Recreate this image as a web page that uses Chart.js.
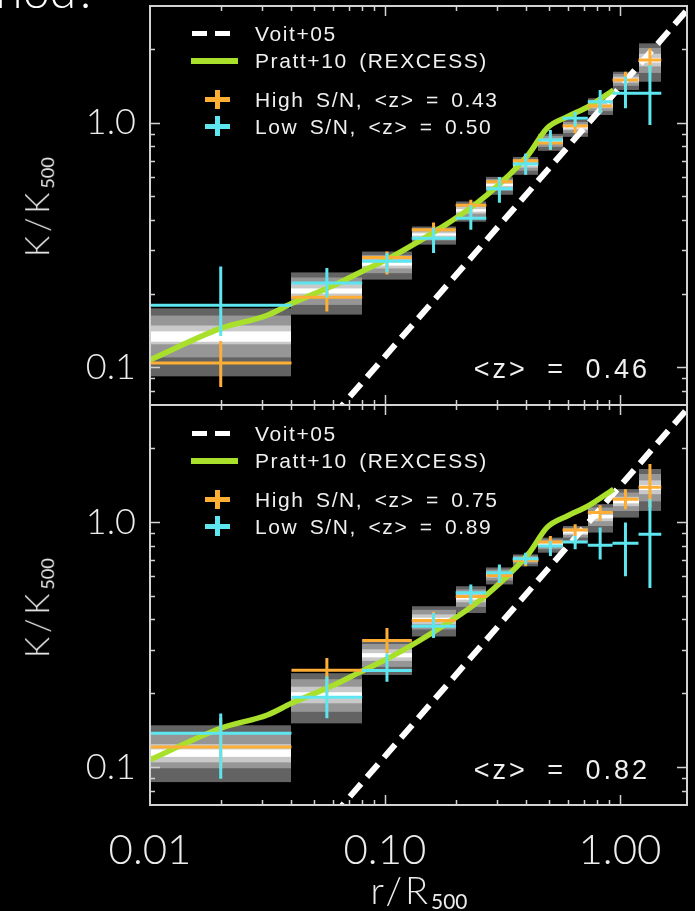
<!DOCTYPE html>
<html lang="en">
<head>
<meta charset="UTF-8">
<title>Entropy profiles K/K500</title>
<script src="https://cdn.jsdelivr.net/npm/chart.js"></script>
<style>
    html, body { margin: 0; padding: 0; background: #000; }
    #page { position: relative; width: 695px; height: 911px; overflow: hidden; background: #000; }
    #page canvas { position: absolute; left: 0; top: 0; }
    .t { position: absolute; color: #f0f0f0; white-space: pre; line-height: 1; }
    .leg { font-family: "Liberation Sans", Arial, sans-serif; font-size: 21px; letter-spacing: 1.6px; word-spacing: 4px; transform: translateY(-50%); }
    .zlab { font-family: "Liberation Sans", Arial, sans-serif; font-size: 27px; letter-spacing: 3px; word-spacing: 9px; transform: translateY(-50%); }
    .sw { position: absolute; }
    .axt { font-family: Lato, "Open Sans", sans-serif; font-weight: 300; color: #ececec; }
    .axt sub { font-size: 0.55em; vertical-align: -0.25em; font-weight: 400; letter-spacing: 0; }
</style>
</head>
<body>
<div id="page">
    <canvas id="panelTop" width="695" height="911"></canvas>
    <canvas id="panelBottom" width="695" height="911"></canvas>
</div>
<script>
    // radial bins (r/R500)
    const binLo  = [0.01, 0.04, 0.08, 0.13, 0.20, 0.27, 0.35, 0.45, 0.57, 0.73, 0.93, 1.20];
    const binHi  = [0.04, 0.08, 0.13, 0.20, 0.27, 0.35, 0.45, 0.57, 0.73, 0.93, 1.20, 1.50];
    const binMid = [0.02, 0.0566, 0.102, 0.161, 0.232, 0.307, 0.397, 0.506, 0.645, 0.824, 1.056, 1.342];

    // Voit+05 baseline and Pratt+10 (REXCESS) median profile
    const voitR = [0.06, 2.0];
    const voitK = [0.063, 3.0];
    const prattR = [0.01, 0.02, 0.0316, 0.04, 0.06, 0.079, 0.105, 0.168, 0.24, 0.31, 0.41, 0.49, 0.60, 0.73, 0.94];
    const prattK = [0.107, 0.144, 0.163, 0.182, 0.215, 0.245, 0.28, 0.365, 0.46, 0.565, 0.745, 0.95, 1.06, 1.16, 1.36];

    // low-z panel
    const highK_a  = [0.104, 0.193, 0.2805, 0.365, 0.459, 0.573, 0.698, 0.826, 0.969, 1.17, 1.494, 1.803];
    const highLo_a = [0.083, 0.169, 0.239, 0.341, 0.428, 0.541, 0.653, 0.774, 0.905, 1.10, 1.382, 1.615];
    const highHi_a = [0.128, 0.211, 0.297, 0.390, 0.4835, 0.60, 0.738, 0.882, 1.016, 1.25, 1.615, 2.012];
    const lowK_a   = [0.179, 0.221, 0.271, 0.337, 0.406, 0.536, 0.678, 0.850, 1.042, 1.218, 1.318, 1.318];
    const lowLo_a  = [0.134, 0.192, 0.244, 0.293, 0.365, 0.470, 0.612, 0.774, 0.963, 1.092, 1.145, 0.979];
    const lowHi_a  = [0.258, 0.2545, 0.293, 0.372, 0.459, 0.60, 0.748, 0.934, 1.109, 1.36, 1.541, 1.72];

    // high-z panel
    const highK_b  = [0.1208, 0.248, 0.328, 0.3966, 0.496, 0.605, 0.697, 0.828, 0.927, 1.093, 1.239, 1.384];
    const highLo_b = [0.0985, 0.200, 0.2915, 0.381, 0.451, 0.556, 0.659, 0.773, 0.876, 1.009, 1.127, 1.146];
    const highHi_b = [0.158, 0.2787, 0.369, 0.4305, 0.525, 0.66, 0.737, 0.876, 0.979, 1.171, 1.361, 1.724];
    const lowK_b   = [0.1375, 0.1925, 0.2474, 0.375, 0.5136, 0.620, 0.708, 0.797, 0.828, 0.803, 0.818, 0.890];
    const lowLo_b  = [0.0896, 0.158, 0.223, 0.336, 0.46, 0.564, 0.671, 0.726, 0.773, 0.703, 0.601, 0.538];
    const lowHi_b  = [0.1655, 0.234, 0.2915, 0.425, 0.5555, 0.671, 0.749, 0.836, 0.876, 0.948, 0.994, 1.239];

    // simulated scatter per bin: [outerLo, midLo, innerLo, coreLo, coreHi, innerHi, midHi, outerHi]
    const bands_a = [
        [0.0917, 0.1096, 0.124, 0.127, 0.140, 0.148, 0.1625, 0.174],
        [0.164, 0.1797, 0.1922, 0.2000, 0.2098, 0.2192, 0.2326, 0.244],
        [0.228, 0.2422, 0.2533, 0.2602, 0.2686, 0.2765, 0.2877, 0.297],
        [0.317, 0.3297, 0.3394, 0.3452, 0.3524, 0.3591, 0.3684, 0.376],
        [0.3935, 0.4111, 0.4246, 0.4326, 0.4427, 0.4520, 0.4653, 0.476],
        [0.507, 0.5268, 0.5422, 0.5514, 0.5627, 0.5733, 0.588, 0.600],
        [0.612, 0.6361, 0.6546, 0.6656, 0.6792, 0.6918, 0.7097, 0.724],
        [0.767, 0.7961, 0.8176, 0.8307, 0.8467, 0.8619, 0.8829, 0.900],
        [0.875, 0.9075, 0.9322, 0.9469, 0.9652, 0.9822, 1.0057, 1.025],
        [1.075, 1.1146, 1.1448, 1.163, 1.185, 1.2058, 1.2344, 1.258],
        [1.36, 1.4149, 1.4568, 1.4822, 1.5129, 1.5417, 1.582, 1.615],
        [1.47, 1.597, 1.6988, 1.7613, 1.8393, 1.914, 2.021, 2.11]
    ];
    const bands_b = [
        [0.0868, 0.0989, 0.1045, 0.110, 0.118, 0.124, 0.139, 0.148],
        [0.1507, 0.168, 0.182, 0.1907, 0.2019, 0.2127, 0.2282, 0.2415],
        [0.2375, 0.2563, 0.2711, 0.2802, 0.2915, 0.3022, 0.3178, 0.3306],
        [0.341, 0.3641, 0.3821, 0.393, 0.4066, 0.4195, 0.4378, 0.453],
        [0.425, 0.4503, 0.47, 0.482, 0.4968, 0.5107, 0.5304, 0.5466],
        [0.556, 0.5768, 0.5925, 0.602, 0.6136, 0.6245, 0.6396, 0.652],
        [0.659, 0.6762, 0.6891, 0.6969, 0.7063, 0.7152, 0.7273, 0.737],
        [0.749, 0.7738, 0.7927, 0.8039, 0.8177, 0.8306, 0.8486, 0.863],
        [0.836, 0.8636, 0.8847, 0.8972, 0.9126, 0.9268, 0.9467, 0.963],
        [0.905, 0.9623, 1.0069, 1.0342, 1.0678, 1.0997, 1.1446, 1.182],
        [1.042, 1.1081, 1.1597, 1.1911, 1.2298, 1.2666, 1.3183, 1.361],
        [1.109, 1.2138, 1.2983, 1.3503, 1.4155, 1.4778, 1.5686, 1.644]
    ];

    const zMean = ['0.46', '0.82'];
    const zHigh = ['0.43', '0.75'];
    const zLow  = ['0.50', '0.89'];
    const xTickVals = [0.01, 0.1, 1];
    const xTickText = ['0.01', '0.10', '1.00'];
    const yTickVals = [0.1, 1];
    const yTickText = ['0.1', '1.0'];

    const ORANGE = '#ffae35';
    const CYAN = '#5de6f0';
    const GREEN = '#a8e02c';
    const bandColors = ['#636363', '#969696', '#c9c9c9', '#ffffff'];

    const toXY = (xs, ys) => xs.map((v, i) => ({ x: v, y: ys[i] }));

    // crosses: bin-wide horizontal bar plus vertical error bar, split by gaps
    function crosses(k, lo, hi) {
        const pts = [];
        k.forEach((v, i) => {
            pts.push({ x: binLo[i], y: v }, { x: binHi[i], y: v }, { x: binMid[i], y: null });
            pts.push({ x: binMid[i], y: lo[i] }, { x: binMid[i], y: hi[i] }, { x: binMid[i], y: null });
        });
        return pts;
    }

    const scatterBands = {
        id: 'scatterBands',
        beforeDatasetsDraw(chart, args, opts) {
            const { ctx, chartArea: a, scales: { x, y } } = chart;
            ctx.save();
            ctx.beginPath();
            ctx.rect(a.left, a.top, a.right - a.left, a.bottom - a.top);
            ctx.clip();
            opts.rows.forEach((row, i) => {
                const x0 = Math.round(x.getPixelForValue(binLo[i]));
                const x1 = Math.round(x.getPixelForValue(binHi[i]));
                bandColors.forEach((c, j) => {
                    const yt = y.getPixelForValue(row[7 - j]);
                    const yb = y.getPixelForValue(row[j]);
                    ctx.fillStyle = c;
                    ctx.fillRect(x0, yt, x1 - x0, yb - yt);
                });
            });
            ctx.restore();
        }
    };

    // box frame with inward log ticks on all four sides
    const frameTicks = {
        id: 'frameTicks',
        afterDatasetsDraw(chart) {
            const { ctx, chartArea: a, scales: { x, y } } = chart;
            ctx.save();
            ctx.strokeStyle = '#d2d2d2';
            ctx.lineWidth = 2;
            ctx.strokeRect(a.left, a.top, a.right - a.left, a.bottom - a.top);
            ctx.lineWidth = 1.5;
            ctx.beginPath();
            for (let e = -3; e <= 1; e++) {
                for (let m = 1; m <= 9; m++) {
                    const v = m * Math.pow(10, e);
                    const len = m === 1 ? 10 : 5;
                    if (v > x.min * 1.001 && v < x.max * 0.999) {
                        const px = Math.round(x.getPixelForValue(v)) + 0.5;
                        ctx.moveTo(px, a.bottom); ctx.lineTo(px, a.bottom - len);
                        ctx.moveTo(px, a.top); ctx.lineTo(px, a.top + len);
                    }
                    if (v > y.min * 1.001 && v < y.max * 0.999) {
                        const py = Math.round(y.getPixelForValue(v)) + 0.5;
                        ctx.moveTo(a.left, py); ctx.lineTo(a.left + len, py);
                        ctx.moveTo(a.right, py); ctx.lineTo(a.right - len, py);
                    }
                }
            }
            ctx.stroke();
            ctx.restore();
        }
    };

    function makePanel(id, p) {
        return new Chart(document.getElementById(id), {
            type: 'scatter',
            data: {
                datasets: [
                    { label: 'Low S/N', data: crosses(p.lowK, p.lowLo, p.lowHi), showLine: true,
                      borderColor: CYAN, borderWidth: 3, pointRadius: 0, spanGaps: false, borderCapStyle: 'butt' },
                    { label: 'High S/N', data: crosses(p.highK, p.highLo, p.highHi), showLine: true,
                      borderColor: ORANGE, borderWidth: 3, pointRadius: 0, spanGaps: false, borderCapStyle: 'butt' },
                    { label: 'Pratt+10 (REXCESS)', data: toXY(prattR, prattK), showLine: true,
                      borderColor: GREEN, borderWidth: 5.5, pointRadius: 0, cubicInterpolationMode: 'monotone', clip: 0 },
                    { label: 'Voit+05', data: toXY(voitR, voitK), showLine: true,
                      borderColor: '#ffffff', borderWidth: 6, borderDash: [17, 9], pointRadius: 0, clip: 0 }
                ]
            },
            options: {
                responsive: false,
                animation: false,
                events: [],
                layout: { padding: p.padding },
                plugins: {
                    legend: { display: false },
                    tooltip: { enabled: false },
                    scatterBands: { rows: p.bands }
                },
                scales: {
                    x: {
                        type: 'logarithmic', min: 0.01, max: 1.93,
                        display: p.showX,
                        grid: { display: false, drawTicks: false },
                        border: { display: false },
                        afterBuildTicks: s => { s.ticks = xTickVals.map(v => ({ value: v })); },
                        afterFit: s => {
                            s.height = p.showX ? 106 : 0;
                            s.paddingLeft = 0;
                            s.paddingRight = 0;
                        },
                        ticks: {
                            autoSkip: false, maxRotation: 0, padding: 20, color: '#ececec',
                            font: { family: 'Lato, "Open Sans", sans-serif', size: 42, weight: '300' },
                            callback: (v, i) => xTickText[i]
                        }
                    },
                    y: {
                        type: 'logarithmic', min: 0.07, max: 3.0,
                        grid: { display: false, drawTicks: false },
                        border: { display: false },
                        afterBuildTicks: s => { s.ticks = yTickVals.map(v => ({ value: v })); },
                        afterFit: s => {
                            s.width = 150;
                            s.paddingTop = 0;
                            s.paddingBottom = 0;
                        },
                        ticks: {
                            autoSkip: false, padding: 14, color: '#ececec',
                            font: { family: 'Lato, "Open Sans", sans-serif', size: 36, weight: '300' },
                            callback: (v, i) => yTickText[i]
                        }
                    }
                }
            },
            plugins: [scatterBands, frameTicks]
        });
    }

    makePanel('panelTop', {
        lowK: lowK_a, lowLo: lowLo_a, lowHi: lowHi_a,
        highK: highK_a, highLo: highLo_a, highHi: highHi_a,
        bands: bands_a, showX: false,
        padding: { top: 6, right: 8, bottom: 506, left: 0 }
    });
    makePanel('panelBottom', {
        lowK: lowK_b, lowLo: lowLo_b, lowHi: lowHi_b,
        highK: highK_b, highLo: highLo_b, highHi: highHi_b,
        bands: bands_b, showX: true,
        padding: { top: 405, right: 8, bottom: 0, left: 0 }
    });

    // text layer: legends, panel redshifts, axis titles
    const page = document.getElementById('page');
    function put(cls, css, text, html) {
        const d = document.createElement('div');
        d.className = cls;
        Object.assign(d.style, css);
        if (html) d.innerHTML = html; else if (text != null) d.textContent = text;
        page.appendChild(d);
        return d;
    }

    [0, 400].forEach((base, k) => {
        put('sw', { left: '192px', top: (base + 31) + 'px', width: '15px', height: '5px', background: '#fff' });
        put('sw', { left: '215px', top: (base + 31) + 'px', width: '15px', height: '5px', background: '#fff' });
        put('sw', { left: '191px', top: (base + 58) + 'px', width: '47px', height: '6px', background: GREEN });
        put('sw', { left: '205px', top: (base + 96.5) + 'px', width: '25px', height: '5px', background: ORANGE });
        put('sw', { left: '215px', top: (base + 90) + 'px', width: '5px', height: '19px', background: ORANGE });
        put('sw', { left: '205px', top: (base + 123.5) + 'px', width: '25px', height: '5px', background: CYAN });
        put('sw', { left: '215px', top: (base + 116) + 'px', width: '5px', height: '20px', background: CYAN });

        put('t leg', { left: '255px', top: (base + 33) + 'px' }, 'Voit+05');
        put('t leg', { left: '255px', top: (base + 60) + 'px' }, 'Pratt+10 (REXCESS)');
        put('t leg', { left: '255px', top: (base + 99) + 'px' }, 'High S/N, <z> = ' + zHigh[k]);
        put('t leg', { left: '255px', top: (base + 126) + 'px' }, 'Low S/N, <z> = ' + zLow[k]);

        put('t zlab', { right: '45px', top: (base + 369 + k) + 'px' }, '<z> = ' + zMean[k]);

        put('t axt', { left: '38px', top: (base + 207 + k) + 'px', fontSize: '33px', letterSpacing: '4px',
            transform: 'translate(-50%, -50%) rotate(-90deg)' }, null, 'K/K<sub>500</sub>');
    });

    put('t axt', { left: '419px', top: '891px', fontSize: '38px', letterSpacing: '3px', transform: 'translate(-50%, -50%)' },
        null, 'r/R<sub>500</sub>');

    // slide heading running off the top edge
    put('t axt', { right: '598px', top: '-34px', fontSize: '48px', color: '#ffffff' }, 'period?');
</script>
</body>
</html>
